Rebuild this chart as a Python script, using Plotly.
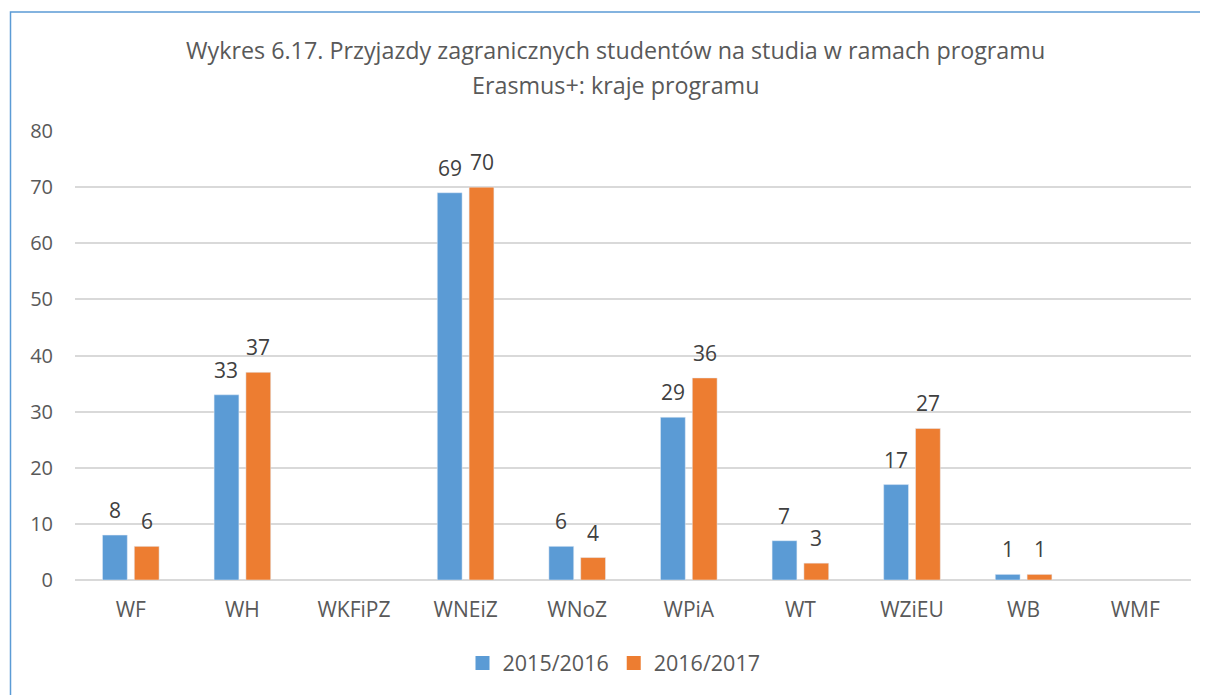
import plotly.graph_objects as go

categories = ["WF", "WH", "WKFiPZ", "WNEiZ", "WNoZ", "WPiA", "WT", "WZiEU", "WB", "WMF"]
series_2015 = [8, 33, None, 69, 6, 29, 7, 17, 1, None]
series_2016 = [6, 37, None, 70, 4, 36, 3, 27, 1, None]
series_names = ["2015/2016", "2016/2017"]
y_ticks = [0, 10, 20, 30, 40, 50, 60, 70, 80]
title_lines = ["Wykres 6.17. Przyjazdy zagranicznych studentów na studia w ramach programu",
               "Erasmus+: kraje programu"]

FONT = "Open Sans"
TXT = "#595959"
COLORS = ["#5B9BD5", "#ED7D31"]

# figure geometry (page body has an 8px margin)
W, H = 1200, 687
L, R, T, B = 67, 17, 123, 115
pw = W - L - R
ph = H - T - B
BARGAP, GROUPGAP = 0.43, 0.22
cat_px = pw / len(categories)
slot_px = cat_px * (1 - BARGAP) / 2

fig = go.Figure()
for i, (name, vals) in enumerate(zip(series_names, [series_2015, series_2016])):
    fig.add_trace(go.Bar(x=categories, y=vals, name=name, marker_color=COLORS[i],
                         showlegend=False))
    # legend entry with a square swatch
    fig.add_trace(go.Scatter(x=[None], y=[None], mode="markers", name=name,
                             marker=dict(symbol="square", size=14, color=COLORS[i])))
    shift = (i - 0.5) * slot_px
    for c, v in zip(categories, vals):
        if v is None:
            continue
        fig.add_annotation(x=c, y=v, text=str(v), showarrow=False, xref="x", yref="y",
                           xshift=shift, yshift=25, yanchor="middle",
                           font=dict(family=FONT, size=21, color="#404040"))

# chart border (top and left visible)
x0 = (2.5 - L) / pw
x1 = (W + 10 - L) / pw
y1 = 1 + (T - 4) / ph
y0 = -(H + 10 - T - ph) / ph
fig.add_shape(type="path", xref="paper", yref="paper",
              path=f"M {x0} {y0} L {x0} {y1} L {x1} {y1}",
              line=dict(color="#5B9BD5", width=1.5))

# title as two lines
for txt, ypx in zip(title_lines, [42, 77]):
    fig.add_annotation(text=txt, xref="paper", yref="paper",
                       x=(607 - L) / pw, y=1 + (T - ypx) / ph,
                       xanchor="center", yanchor="middle", showarrow=False,
                       font=dict(family=FONT, size=23.3, color=TXT))

fig.update_layout(
    width=W, height=H,
    margin=dict(l=L, r=R, t=T, b=B),
    paper_bgcolor="white", plot_bgcolor="white",
    barmode="group", bargap=BARGAP, bargroupgap=GROUPGAP,
    font=dict(family=FONT, color=TXT),
    showlegend=True,
    legend=dict(orientation="h", x=(606 - L) / pw, xanchor="center",
                y=-(655 - (T + ph)) / ph, yanchor="middle",
                font=dict(family=FONT, size=21.5, color=TXT),
                itemwidth=30, traceorder="normal"),
)
fig.update_xaxes(showgrid=False, showline=False, ticks="", ticklabelstandoff=15,
                 tickfont=dict(family=FONT, size=21, color=TXT))
fig.update_yaxes(range=[0, 80], tickvals=y_ticks, showgrid=True, gridcolor="#D9D9D9",
                 gridwidth=1.5, zeroline=True, zerolinecolor="#D9D9D9", zerolinewidth=1.5,
                 ticks="", ticklabelstandoff=21,
                 tickfont=dict(family=FONT, size=20, color=TXT))

fig.write_html("out.html")
